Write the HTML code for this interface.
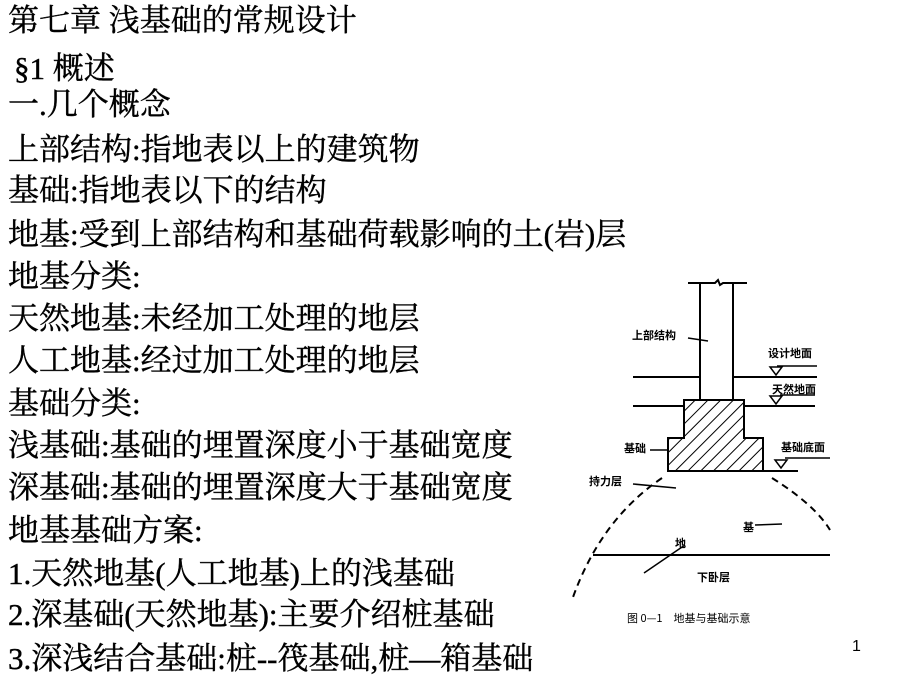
<!DOCTYPE html>
<html><head><meta charset="utf-8"><style>
body{margin:0;width:920px;height:690px;background:#fff;position:relative;overflow:hidden;font-family:"Liberation Serif","Noto Serif CJK SC",serif;}
.l{position:absolute;left:8px;font-size:31px;line-height:34px;color:#000;white-space:nowrap;-webkit-text-stroke:0.4px #000;}
svg{position:absolute;left:0;top:0}
</style></head><body>
<div class="l" style="top:4px">第七章 浅基础的常规设计</div>
<div class="l" style="top:52px;left:14px">§1 概述</div>
<div class="l" style="top:88px">一.几个概念</div>
<div class="l" style="top:133px">上部结构:指地表以上的建筑物</div>
<div class="l" style="top:174px">基础:指地表以下的结构</div>
<div class="l" style="top:218px">地基:受到上部结构和基础荷载影响的土(岩)层</div>
<div class="l" style="top:260px">地基分类:</div>
<div class="l" style="top:302px">天然地基:未经加工处理的地层</div>
<div class="l" style="top:344px">人工地基:经过加工处理的地层</div>
<div class="l" style="top:387px">基础分类:</div>
<div class="l" style="top:429px">浅基础:基础的埋置深度小于基础宽度</div>
<div class="l" style="top:471px">深基础:基础的埋置深度大于基础宽度</div>
<div class="l" style="top:514px">地基基础方案:</div>
<div class="l" style="top:557px">1.天然地基(人工地基)上的浅基础</div>
<div class="l" style="top:598px">2.深基础(天然地基):主要介绍桩基础</div>
<div class="l" style="top:642px">3.深浅结合基础:桩--筏基础,桩—箱基础</div>
<div style="position:absolute;left:852px;top:638px;font-family:'Liberation Sans',sans-serif;font-size:16px">1</div>
<svg width="920" height="690" font-family="Noto Sans CJK SC, sans-serif" font-size="11" font-weight="bold">
<defs><pattern id="h" width="9" height="9" patternUnits="userSpaceOnUse" patternTransform="rotate(45)"><line x1="0" y1="0" x2="0" y2="9" stroke="#000" stroke-width="2"/></pattern></defs>
<g stroke="#000" stroke-width="2" fill="none">
<path d="M688 283H715l3-3 2 5 3-2H747"/>
<line x1="700" y1="283" x2="700" y2="400"/><line x1="733" y1="283" x2="733" y2="400"/>
<line x1="633" y1="377" x2="700" y2="377"/><line x1="733" y1="377" x2="817" y2="377"/>
<line x1="633" y1="406" x2="684" y2="406"/><line x1="744" y1="406" x2="815" y2="406"/>
<path d="M684 400H744V438H763V471H668V438H684Z" fill="url(#h)"/>
<line x1="668" y1="471" x2="798" y2="471"/>
<path d="M662 478Q600 520 572 600" stroke-dasharray="7,5"/>
<path d="M772 478Q815 505 830 530" stroke-dasharray="7,5"/>
<line x1="593" y1="555" x2="830" y2="555"/>
<line x1="685" y1="545" x2="644" y2="573" stroke-width="1.5"/>
<line x1="633" y1="484" x2="676" y2="488" stroke-width="1.5"/>
<line x1="688" y1="338" x2="708" y2="341" stroke-width="1.5"/>
<line x1="650" y1="450" x2="668" y2="450" stroke-width="1.5"/>
<line x1="755" y1="525" x2="782" y2="524" stroke-width="1.5"/>
<line x1="777" y1="366" x2="817" y2="366" stroke-width="1.5"/>
<line x1="780" y1="395" x2="815" y2="395" stroke-width="1.5"/>
<line x1="785" y1="458" x2="830" y2="458" stroke-width="1.5"/>
<path d="M770 367h12l-6 8z" stroke-width="1.5"/>
<path d="M770 396h12l-6 8z" stroke-width="1.5"/>
<path d="M775 460h12l-6 8z" stroke-width="1.5"/>
</g>
<text x="632" y="339">上部结构</text>
<text x="768" y="357">设计地面</text>
<text x="772" y="393">天然地面</text>
<text x="624" y="452">基础</text>
<text x="781" y="451">基础底面</text>
<text x="589" y="485">持力层</text>
<text x="743" y="531">基</text>
<text x="675" y="547">地</text>
<text x="697" y="581">下卧层</text>
<text x="627" y="622" font-weight="normal">图 0—1　地基与基础示意</text>
</svg>
</body></html>
